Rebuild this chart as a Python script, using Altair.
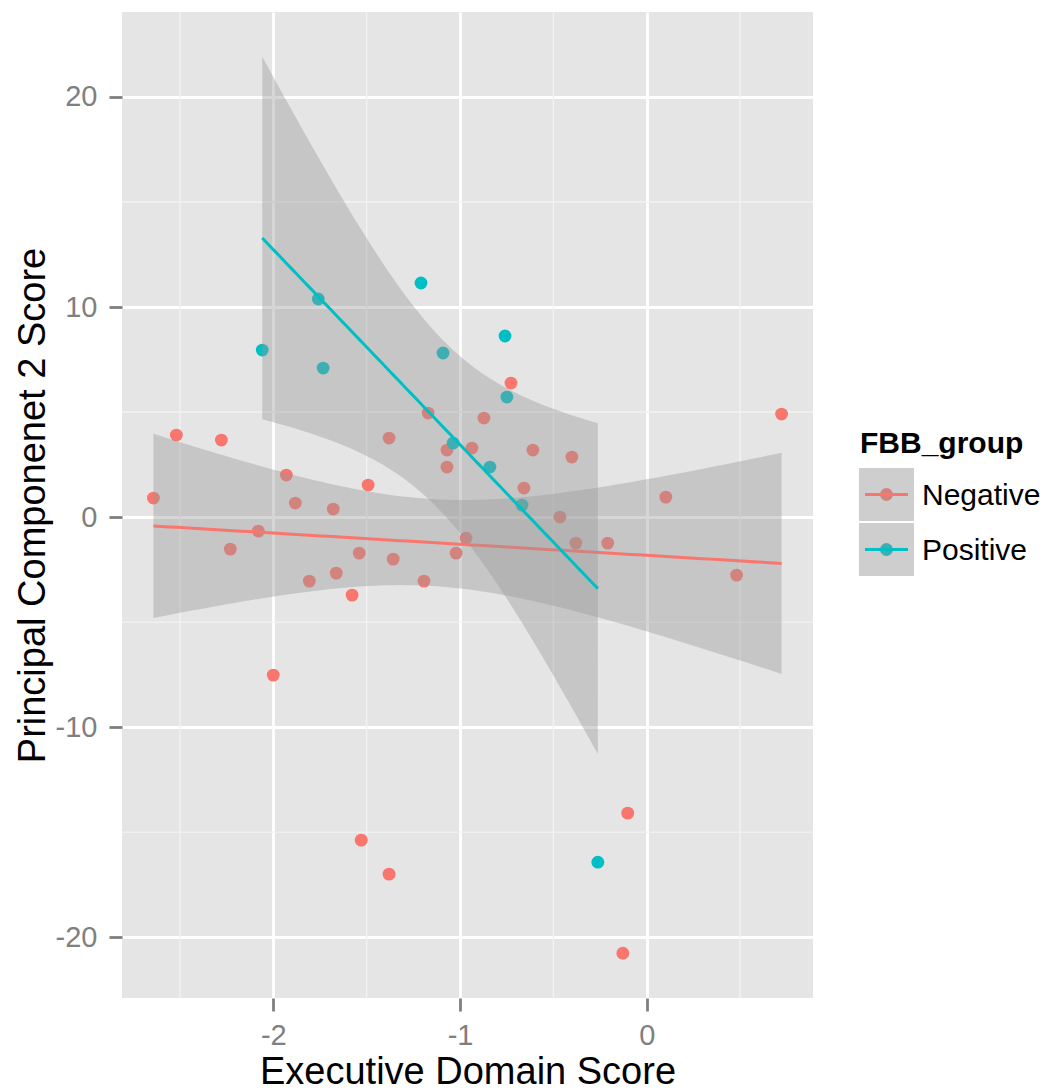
import math
import numpy as np
import pandas as pd
import altair as alt

# ---------------- data ----------------
groups = ["Negative", "Positive"]
group_colors = ["#F8766D", "#00BFC4"]

neg_x = [-2.642, -2.519, -2.278, -2.230, -2.080, -1.930, -1.882, -2.000, -1.807, -1.679,
         -1.663, -1.578, -1.540, -1.529, -1.492, -1.380, -1.380, -1.358, -1.193, -1.171,
         -1.070, -1.070, -1.021, -0.968, -0.936, -0.872, -0.727, -0.658, -0.610, -0.465,
         -0.401, -0.380, -0.209, -0.102, -0.128, 0.102, 0.481, 0.722]
neg_y = [0.905, 3.905, 3.667, -1.524, -0.667, 2.000, 0.667, -7.524, -3.048, 0.381,
         -2.667, -3.714, -1.714, -15.381, 1.524, 3.762, -17.000, -2.000, -3.048, 4.952,
         3.190, 2.381, -1.714, -1.000, 3.286, 4.714, 6.381, 1.381, 3.190, 0.000,
         2.857, -1.238, -1.238, -14.095, -20.762, 0.952, -2.762, 4.905]

pos_x = [-2.059, -1.759, -1.733, -1.209, -1.091, -1.037, -0.840, -0.759, -0.749, -0.668, -0.262]
pos_y = [7.952, 10.381, 7.095, 11.143, 7.810, 3.524, 2.381, 8.619, 5.714, 0.571, -16.429]

x_ticks = [-2, -1, 0]
y_ticks = [-20, -10, 0, 10, 20]
x_minor = [-2.5, -1.5, -0.5, 0.5]
y_minor = [-15, -5, 5, 15]

x_title = "Executive Domain Score"
y_title = "Principal Componenet 2 Score"
legend_title = "FBB_group"


# ---------------- linear fit with 95% confidence band ----------------
def t_quantile(p, df):
    grid = np.linspace(0.0, 15.0, 150001)
    logc = math.lgamma((df + 1) / 2) - math.lgamma(df / 2) - 0.5 * math.log(df * math.pi)
    pdf = np.exp(logc - (df + 1) / 2 * np.log1p(grid ** 2 / df))
    cdf = 0.5 + np.concatenate([[0.0], np.cumsum((pdf[1:] + pdf[:-1]) / 2 * np.diff(grid))])
    return float(np.interp(p, cdf, grid))


def lm_band(xs, ys, n=80):
    x = np.asarray(xs, float)
    y = np.asarray(ys, float)
    m = len(x)
    xm = x.mean()
    sxx = ((x - xm) ** 2).sum()
    b = ((x - xm) * (y - y.mean())).sum() / sxx
    a = y.mean() - b * xm
    s2 = ((y - (a + b * x)) ** 2).sum() / (m - 2)
    xg = np.linspace(x.min(), x.max(), n)
    yg = a + b * xg
    se = np.sqrt(s2 * (1.0 / m + (xg - xm) ** 2 / sxx))
    t = t_quantile(0.975, m - 2)
    return xg, yg, yg - t * se, yg + t * se


series = {"Negative": (neg_x, neg_y), "Positive": (pos_x, pos_y)}

pts = pd.concat([
    pd.DataFrame({"x": xs, "y": ys, "group": g}) for g, (xs, ys) in series.items()
], ignore_index=True)

fits = {}
for g, (xs, ys) in series.items():
    xg, yg, lo, hi = lm_band(xs, ys)
    fits[g] = pd.DataFrame({"x": xg, "fit": yg, "lo": lo, "hi": hi, "group": g})

# domains like ggplot: 5% expansion of the data (incl. ribbons)
all_x = np.array(neg_x + pos_x)
xr = all_x.max() - all_x.min()
xdom = [float(all_x.min() - 0.05 * xr), float(all_x.max() + 0.05 * xr)]
ymin = min(pts["y"].min(), min(f["lo"].min() for f in fits.values()))
ymax = max(pts["y"].max(), max(f["hi"].max() for f in fits.values()))
yr = ymax - ymin
ydom = [float(ymin - 0.05 * yr), float(ymax + 0.05 * yr)]

# ---------------- styling ----------------
FONT = "Liberation Sans"
W, H = 691, 986
GREY50 = "#7F7F7F"

xscale = alt.Scale(domain=xdom, nice=False, zero=False)
yscale = alt.Scale(domain=ydom, nice=False, zero=False)
cscale = alt.Scale(domain=groups, range=group_colors)

xaxis = alt.Axis(values=x_ticks, title=x_title, grid=True, gridColor="white", gridWidth=2.8,
                 domain=False, ticks=True, tickColor=GREY50, tickWidth=2.8, tickSize=13,
                 labelPadding=10, labelFont=FONT, labelFontSize=29, labelColor=GREY50,
                 labelExpr="'' + datum.value",
                 titleFont=FONT, titleFontSize=38, titleFontWeight="normal", titleColor="black",
                 titleY=85, titleBaseline="alphabetic")
yaxis = alt.Axis(values=y_ticks, title=y_title, grid=True, gridColor="white", gridWidth=2.8,
                 domain=False, ticks=True, tickColor=GREY50, tickWidth=2.8, tickSize=13,
                 labelPadding=12, labelFont=FONT, labelFontSize=29, labelColor=GREY50,
                 labelExpr="'' + datum.value",
                 titleFont=FONT, titleFontSize=38, titleFontWeight="normal", titleColor="black",
                 titleX=-78, titleY=H / 2, titleAngle=-90, titleBaseline="alphabetic",
                 titleAlign="center")

X = lambda f: alt.X(f, type="quantitative", scale=xscale, axis=xaxis)
Y = lambda f: alt.Y(f, type="quantitative", scale=yscale, axis=yaxis)

POINT_SIZE = 165

layers = []

# minor grid lines
layers.append(alt.Chart(pd.DataFrame({"x": x_minor})).mark_rule(color="#F2F2F2", strokeWidth=1.4)
              .encode(x=X("x")))
layers.append(alt.Chart(pd.DataFrame({"y": y_minor})).mark_rule(color="#F2F2F2", strokeWidth=1.4)
              .encode(y=Y("y")))

# points
layers.append(alt.Chart(pts).mark_circle(size=POINT_SIZE, opacity=1)
              .encode(x=X("x"), y=Y("y"),
                      color=alt.Color("group:N", scale=cscale, legend=None)))

# bands + fitted lines (drawn per group, like geom_smooth)
for g, col in zip(groups, group_colors):
    f = fits[g]
    layers.append(alt.Chart(f).mark_area(color="#999999", opacity=0.4)
                  .encode(x=X("x"), y=Y("lo"), y2="hi"))
    layers.append(alt.Chart(f).mark_line(color=col, strokeWidth=3)
                  .encode(x=X("x"), y=Y("fit")))

# ---------------- legend (drawn by hand, ggplot style) ----------------
one = pd.DataFrame({"k": [0]})
LX = 737          # key left, relative to plot origin
KEY_W, KEY_H, KEY_STEP = 55, 53, 55
KEY_TOP = 456

layers.append(alt.Chart(one).mark_text(text=legend_title, font=FONT, fontSize=30, fontWeight="bold",
                                       align="left", baseline="alphabetic", color="black")
              .encode(x=alt.value(LX + 1), y=alt.value(KEY_TOP - 15)))
for i, (g, col) in enumerate(zip(groups, group_colors)):
    top = KEY_TOP + i * KEY_STEP
    cy = top + KEY_H / 2
    layers.append(alt.Chart(one).mark_rect(color="#F2F2F2")
                  .encode(x=alt.value(LX), x2=alt.value(LX + KEY_W), y=alt.value(top), y2=alt.value(top + KEY_H)))
    layers.append(alt.Chart(one).mark_circle(size=POINT_SIZE, opacity=1, color=col)
                  .encode(x=alt.value(LX + KEY_W / 2), y=alt.value(cy)))
    layers.append(alt.Chart(one).mark_rect(color="#999999", opacity=0.4)
                  .encode(x=alt.value(LX), x2=alt.value(LX + KEY_W), y=alt.value(top), y2=alt.value(top + KEY_H)))
    layers.append(alt.Chart(one).mark_rule(color=col, strokeWidth=3)
                  .encode(x=alt.value(LX + 6), x2=alt.value(LX + KEY_W - 6), y=alt.value(cy)))
    layers.append(alt.Chart(one).mark_text(text=g, font=FONT, fontSize=30, align="left",
                                           baseline="alphabetic", color="black")
                  .encode(x=alt.value(LX + 63), y=alt.value(cy + 10)))

chart = (alt.layer(*layers)
         .properties(width=W, height=H,
                     autosize=alt.AutoSizeParams(type="none"),
                     padding={"left": 122, "top": 12, "right": 235, "bottom": 93},
                     background="white")
         .configure_view(fill="#E5E5E5", strokeWidth=0))

chart.save("out.html", embed_options={"renderer": "svg", "actions": False})
